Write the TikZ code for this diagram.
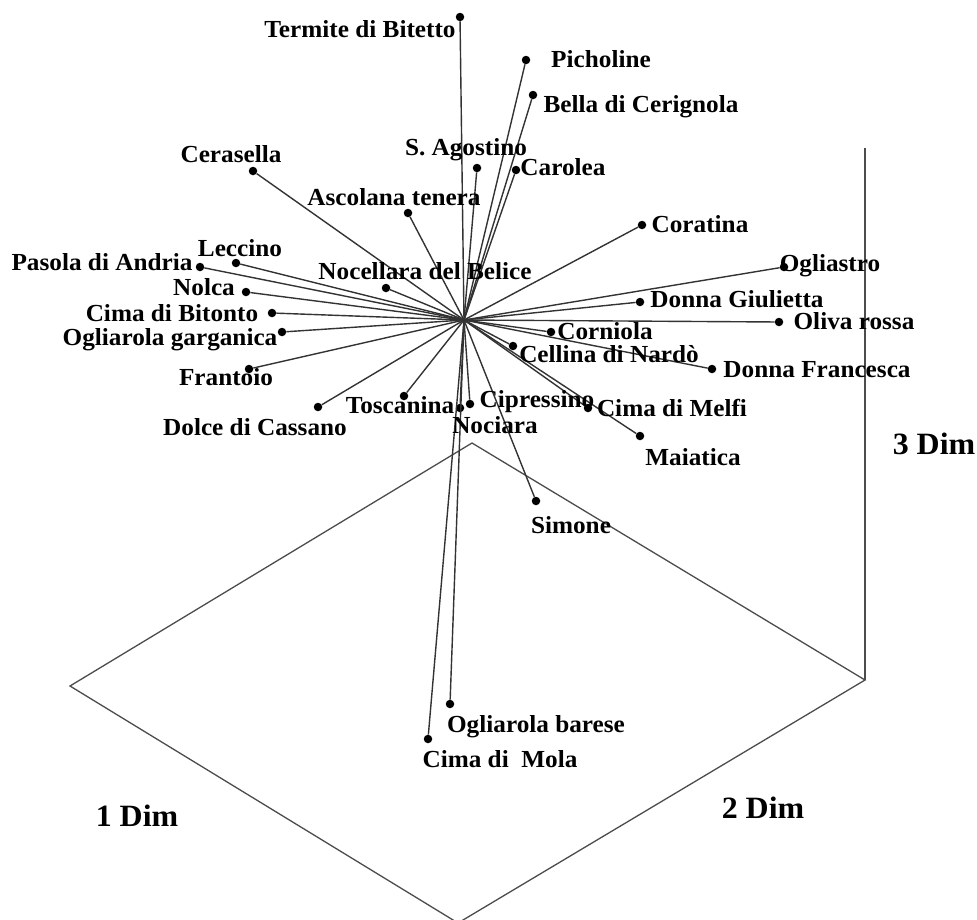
\documentclass[tikz,border=0pt]{standalone}
\usepackage{fontspec}
\setmainfont{Liberation Serif}[FakeStretch=1.03]
\begin{document}
\begin{tikzpicture}[x=1pt,y=-1pt,
  dot/.style={circle,fill=black,inner sep=0pt,minimum size=8.5pt},
  lbl/.style={font=\fontsize{24.5}{27}\selectfont\bfseries,inner sep=0pt,anchor=base,yshift=-7.5pt},
  axlbl/.style={font=\fontsize{31}{34}\selectfont\bfseries,inner sep=0pt,anchor=base,yshift=-10pt},
  ray/.style={draw=black!80,line width=1.4pt},
  frame/.style={draw=black!70,line width=1.3pt}]
\useasboundingbox (0,0) rectangle (977,919);
% frame of the plot
\coordinate (dtop) at (472,443);
\coordinate (dleft) at (70,686);
\coordinate (dright) at (865,680);
\coordinate (dbot) at (458,923);
\coordinate (vtop) at (865,148);
\draw[frame] (dtop) -- (dleft) -- (dbot) -- (dright) -- cycle;
\draw[frame] (dright) -- (vtop);
% centre of the star
\coordinate (c) at (464,320);
\foreach \n/\x/\y in {termite/460/17, picholine/526/60, bella/533/95, agostino/477/168,
  carolea/516/170, cerasella/253/171, ascolana/408/213, coratina/642/225,
  leccino/236/263, pasola/200/267, ogliastro/784/267, nolca/246/292,
  nocellara/386/288, donnag/640/302, bitonto/272/313, olivar/779/322,
  garganica/282/332, corniola/551/332, cellina/513/346, frantoio/249/369,
  donnaf/712/369, dolce/318/407, toscanina/404/396, nociara/460/408,
  cipressino/470/404, melfi/588/408, maiatica/640/436, simone/536/501,
  barese/450/704, mola/428/739}
{
  \node[dot] (\n) at (\x,\y) {};
  \draw[ray] (c) -- (\n);
}
% labels
\node[lbl] (ltermite) at (360,30) {Termite di Bitetto};
\node[lbl] (lpicholine) at (601,60) {Picholine};
\node[lbl] (lbella) at (641,105) {Bella di Cerignola};
\node[lbl] (lagostino) at (466,148) {S. Agostino};
\node[lbl] (lcarolea) at (563,168) {Carolea};
\node[lbl] (lcerasella) at (231,155) {Cerasella};
\node[lbl] (lascolana) at (394,198) {Ascolana tenera};
\node[lbl] (lcoratina) at (700,225) {Coratina};
\node[lbl] (lleccino) at (240,249) {Leccino};
\node[lbl] (lpasola) at (102,263) {Pasola di Andria};
\node[lbl] (lnocellara) at (425,272) {Nocellara del Belice};
\node[lbl] (logliastro) at (830,264) {Ogliastro};
\node[lbl] (lnolca) at (204,288) {Nolca};
\node[lbl] (ldonnag) at (737,300) {Donna Giulietta};
\node[lbl] (lbitonto) at (172,314) {Cima di Bitonto};
\node[lbl] (lolivar) at (854,322) {Oliva rossa};
\node[lbl] (lgarganica) at (170,338) {Ogliarola garganica};
\node[lbl] (lcorniola) at (605,332) {Corniola};
\node[lbl] (lcellina) at (609,355) {Cellina di Nardò};
\node[lbl] (lfrantoio) at (226,378) {Frantoio};
\node[lbl] (ldonnaf) at (817,370) {Donna Francesca};
\node[lbl] (ldolce) at (255,428) {Dolce di Cassano};
\node[lbl] (ltoscanina) at (400,406) {Toscanina};
\node[lbl] (lcipressino) at (537,400) {Cipressino};
\node[lbl] (lmelfi) at (672,409) {Cima di Melfi};
\node[lbl] (lnociara) at (495,426) {Nociara};
\node[lbl] (lmaiatica) at (693,458) {Maiatica};
\node[lbl] (lsimone) at (571,526) {Simone};
\node[lbl] (lbarese) at (536,725) {Ogliarola barese};
\node[lbl] (lmola) at (500,760) {Cima di~ Mola};
\node[axlbl] (dim3) at (934,444) {3 Dim};
\node[axlbl] (dim1) at (137,816) {1 Dim};
\node[axlbl] (dim2) at (763,808) {2 Dim};
\end{tikzpicture}
\end{document}
